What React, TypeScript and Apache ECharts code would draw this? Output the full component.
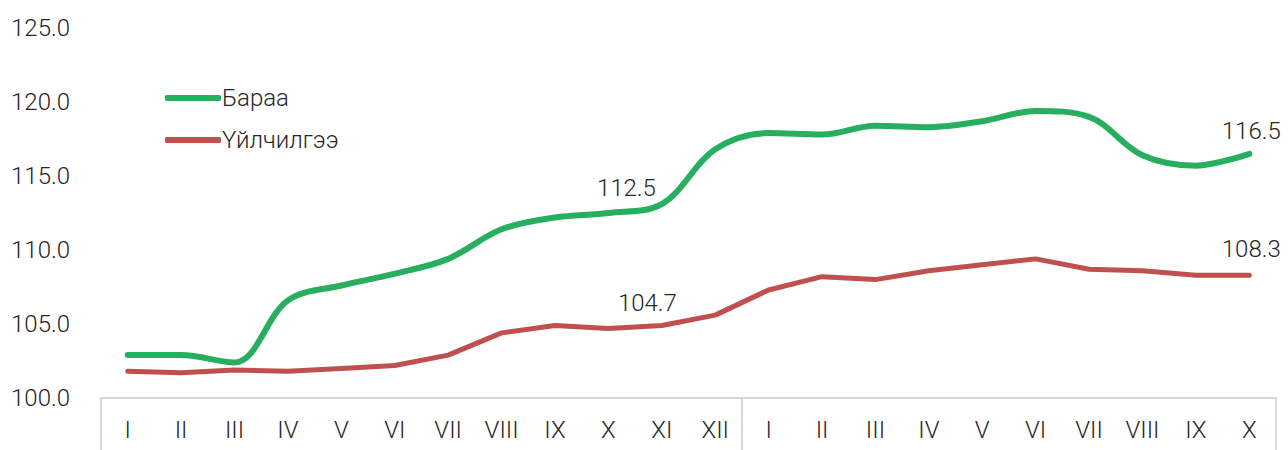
import React, { useEffect, useRef } from "react";
import * as echarts from "echarts";

const categories = ["I","II","III","IV","V","VI","VII","VIII","IX","X","XI","XII","I","II","III","IV","V","VI","VII","VIII","IX","X"];
const goods = [102.9, 102.9, 102.4, 106.6, 107.6, 108.4, 109.4, 111.4, 112.2, 112.5, 113.1, 116.8, 117.9, 117.8, 118.4, 118.3, 118.7, 119.4, 119.0, 116.4, 115.7, 116.5];
const services = [101.8, 101.7, 101.9, 101.8, 102.0, 102.2, 102.9, 104.4, 104.9, 104.7, 104.9, 105.6, 107.3, 108.2, 108.0, 108.6, 109.0, 109.4, 108.7, 108.6, 108.3, 108.3];
const labeledIdx = [9, 21];
const seriesNames = ["Бараа", "Үйлчилгээ"];

export default function App() {
  const ref = useRef<HTMLDivElement>(null);
  useEffect(() => {
    const chart = echarts.init(ref.current!, undefined, { renderer: "svg" });
    const font = "Roboto";
    const mk = (vals: number[], offsets: number[][]) =>
      vals.map((v, i) => {
        const k = labeledIdx.indexOf(i);
        if (k < 0) return v;
        return {
          value: v,
          label: {
            show: true,
            position: "top",
            distance: 8,
            offset: offsets[k],
            formatter: (p: any) => Number(p.value).toFixed(1),
            fontFamily: font,
            fontWeight: 300,
            fontSize: 24,
            color: "#262626",
          },
        };
      });
    chart.setOption({
      animation: false,
      textStyle: { fontFamily: font },
      grid: { left: 101, right: 12, top: 28, bottom: 52, containLabel: false },
      legend: {
        orient: "vertical",
        left: 160,
        top: 81,
        itemWidth: 56,
        itemHeight: 6,
        itemGap: 18,
        icon: "roundRect",
        textStyle: { fontFamily: font, fontWeight: 300, fontSize: 24, color: "#262626", padding: [0, 0, 0, -4] },
        data: seriesNames,
      },
      xAxis: {
        type: "category",
        data: categories,
        boundaryGap: true,
        axisLine: { show: true, lineStyle: { color: "#d9d9d9", width: 2 } },
        axisTick: {
          show: true,
          length: 60,
          interval: (i: number) => i === 0 || i === 12,
          lineStyle: { color: "#d9d9d9", width: 2 },
        },
        axisLabel: {
          interval: 0,
          margin: 20,
          fontFamily: font,
          fontWeight: 300,
          fontSize: 24,
          color: "#262626",
        },
      },
      yAxis: {
        type: "value",
        min: 100,
        max: 125,
        interval: 5,
        axisLine: { show: false },
        axisTick: { show: false },
        splitLine: { show: false },
        axisLabel: {
          formatter: (v: number) => v.toFixed(1),
          align: "left",
          margin: 90,
          fontFamily: font,
          fontWeight: 300,
          fontSize: 24,
          color: "#262626",
        },
      },
      series: [
        {
          name: seriesNames[0],
          type: "line",
          smooth: 0.35,
          symbol: "circle",
          symbolSize: 0,
          showSymbol: true,
          lineStyle: { color: "#27ae5f", width: 6, cap: "round" },
          itemStyle: { color: "#27ae5f" },
          data: mk(goods, [[18, -5], [2, -3]]),
        },
        {
          name: seriesNames[1],
          type: "line",
          smooth: false,
          symbol: "circle",
          symbolSize: 0,
          showSymbol: true,
          lineStyle: { color: "#c0504d", width: 5, cap: "round" },
          itemStyle: { color: "#c0504d" },
          data: mk(services, [[39, -5], [2, -6]]),
        },
      ],
    });
    return () => chart.dispose();
  }, []);
  return <div ref={ref} style={{ position: "absolute", left: 0, top: 0, width: 1288, height: 450 }} />;
}
